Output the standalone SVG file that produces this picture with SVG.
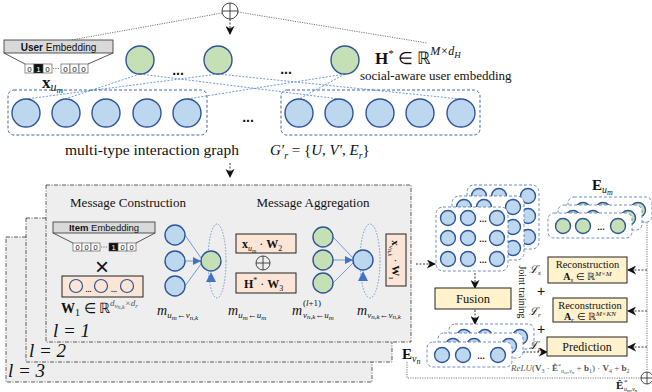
<svg xmlns="http://www.w3.org/2000/svg" width="652" height="392" viewBox="0 0 652 392">
<defs>
<style>
.s{font-family:"Liberation Serif","Times New Roman",serif;fill:#111}
.ss{font-family:"Liberation Sans",Arial,sans-serif;fill:#111}
.i{font-style:italic}
.b{font-weight:bold}
.bc{fill:#bdd7ee;stroke:#2f5597;stroke-width:1.4}
.gc{fill:#c5e0b4;stroke:#2f5597;stroke-width:1.4}
.grp{fill:none;stroke:#2f5597;stroke-width:0.9;stroke-dasharray:3 2}
.grpw{fill:#fff;stroke:#5b7fbf;stroke-width:0.9;stroke-dasharray:3 2}
.panel{fill:#eeeeee;stroke:#333;stroke-width:0.8;stroke-dasharray:4 1.5 1 1.5}
.peach{fill:#fbe5d6;stroke:#222;stroke-width:1}
.yel{fill:#fff2cc;stroke:#222;stroke-width:1}
.edge{stroke:#4a7fd0;stroke-width:0.8;stroke-dasharray:2 1.5;fill:none}
.bl{stroke:#4472c4;stroke-width:0.7;fill:none}
.loop{stroke:#4472c4;stroke-width:0.7;stroke-dasharray:1.5 1.5;fill:none}
.da{stroke:#222;stroke-width:0.9;stroke-dasharray:2 1.5;fill:none}
.dot{stroke:#777;stroke-width:1;stroke-dasharray:1.2 1.2;fill:none}
.cell{fill:#fff;stroke:#444;stroke-width:0.6}
.emb{fill:#d9d9d9;stroke:#444;stroke-width:0.9}
.op{fill:#fff;stroke:#333;stroke-width:0.9}
.sc{fill:none;stroke:#2f5597;stroke-width:1.2}
</style>
<marker id="ah" viewBox="0 0 10 10" refX="9" refY="5" markerWidth="9" markerHeight="9" markerUnits="userSpaceOnUse" orient="auto"><path d="M0,0 L10,5 L0,10 L3,5 z" fill="#111"/></marker>
<marker id="bh" viewBox="0 0 10 10" refX="10" refY="5" markerWidth="8" markerHeight="8" markerUnits="userSpaceOnUse" orient="auto"><path d="M0,0 L10,5 L0,10 z" fill="#4472c4"/></marker>
</defs>

<g id="connectors">
  <path class="dot" d="M222,13 L60,42"/>
  <path class="dot" d="M238,12 L427,43"/>
  <path class="da" d="M230,19 V34" marker-end="url(#ah)"/>
  <path class="edge" d="M140,74 L65,99 M140,74 L339,99 M218,74 L26,99 M218,74 L460,99 M345,74 L187,99 M345,74 L299,99"/>
  <path class="da" d="M230,163 V177" marker-end="url(#ah)"/>
  <path class="da" d="M133,261 H159" marker-end="url(#ah)"/>
  <path class="da" d="M284,263 H301" marker-end="url(#ah)"/>
  <path class="da" d="M416,264 H435" marker-end="url(#ah)"/>
  <path class="da" d="M475,273 V288" marker-end="url(#ah)"/>
  <path class="da" d="M475,310 V324" marker-end="url(#ah)"/>
  <path class="da" d="M523,352 H547" marker-end="url(#ah)"/>
  <path class="da" d="M647,270 H628" marker-end="url(#ah)"/>
  <path class="da" d="M647,311 H628" marker-end="url(#ah)"/>
  <path class="da" d="M647,347 H628" marker-end="url(#ah)"/>
  <path class="dot" d="M633,222 H647 V371"/>
  <path class="dot" d="M407,362 V378 H641"/>
</g>

<g id="oplus-top">
  <circle class="op" cx="230" cy="11" r="8"/>
  <path stroke="#333" stroke-width="0.9" d="M222,11 H238 M230,3 V19"/>
</g>

<g id="user-embedding">
  <rect class="emb" x="4" y="40" width="109" height="13"/>
  <path stroke="#444" stroke-width="0.9" fill="none" d="M4,53 L25,64 M113,53 L88,64"/>
  <text class="ss" x="58.5" y="50.5" font-size="10" text-anchor="middle"><tspan class="b">User</tspan> Embedding</text>
  <rect class="cell" x="25" y="64" width="9" height="9"/>
  <rect x="34" y="64" width="9" height="9" fill="#111" stroke="#444" stroke-width="0.6"/>
  <rect class="cell" x="43" y="64" width="9" height="9"/>
  <rect class="cell" x="61" y="64" width="9" height="9"/>
  <rect class="cell" x="70" y="64" width="9" height="9"/>
  <rect class="cell" x="79" y="64" width="9" height="9"/>
  <path class="dot" d="M53,68.5 H60" stroke="#333"/>
  <g class="ss" font-size="8" text-anchor="middle">
    <text x="29.5" y="71.5">0</text><text x="38.5" y="71.5" style="fill:#fff">1</text><text x="47.5" y="71.5">0</text>
    <text x="65.5" y="71.5">0</text><text x="74.5" y="71.5">0</text><text x="83.5" y="71.5">0</text>
  </g>
  <text class="s" x="42" y="88" font-size="17"><tspan class="b">x</tspan><tspan class="i" dy="3" font-size="12">u</tspan><tspan class="i" dy="2" font-size="9">m</tspan></text>
</g>

<g id="social-layer">
  <circle class="gc" cx="140" cy="60" r="14"/>
  <circle class="gc" cx="218" cy="60" r="14"/>
  <circle class="gc" cx="345" cy="60" r="14"/>
  <text class="ss b" x="178" y="75" font-size="14" text-anchor="middle">...</text>
  <text class="ss b" x="286" y="74" font-size="14" text-anchor="middle">...</text>
  <text class="s" x="375" y="64" font-size="17"><tspan class="b">H</tspan><tspan dy="-7" font-size="11">*</tspan><tspan dy="7"> ∈ ℝ</tspan><tspan class="i" dy="-9" font-size="12">M×d</tspan><tspan class="i" dy="3" font-size="9">H</tspan></text>
  <text class="s" x="360" y="80" font-size="13">social-aware user embedding</text>
</g>

<g id="interaction-graph">
  <rect class="grp" x="8" y="90" width="199" height="45" rx="6"/>
  <rect class="grp" x="281" y="90" width="199" height="45" rx="6"/>
  <circle class="bc" cx="26" cy="113" r="14"/>
  <circle class="bc" cx="66" cy="113" r="14"/>
  <circle class="bc" cx="106" cy="113" r="14"/>
  <circle class="bc" cx="147" cy="113" r="14"/>
  <circle class="bc" cx="187" cy="113" r="14"/>
  <circle class="bc" cx="299" cy="113" r="14"/>
  <circle class="bc" cx="339" cy="113" r="14"/>
  <circle class="bc" cx="380" cy="113" r="14"/>
  <circle class="bc" cx="420" cy="113" r="14"/>
  <circle class="bc" cx="461" cy="113" r="14"/>
  <text class="ss b" x="248" y="122" font-size="14" text-anchor="middle">...</text>
  <text class="s" x="65" y="155" font-size="15.5">multi-type interaction graph</text>
  <text class="s" x="270" y="155" font-size="15"><tspan class="i">G′</tspan><tspan class="i" dy="4" font-size="10">r</tspan><tspan dy="-4"> = {</tspan><tspan class="i">U</tspan><tspan>, </tspan><tspan class="i">V′</tspan><tspan>, </tspan><tspan class="i">E</tspan><tspan class="i" dy="4" font-size="10">r</tspan><tspan dy="-4">}</tspan></text>
</g>

<g id="layer-3"><rect class="panel" x="6" y="237" width="366" height="145"/><text class="s i" x="8" y="377" font-size="19">l = 3</text></g>
<g id="layer-2"><rect class="panel" x="26" y="218" width="366" height="144"/><text class="s i" x="29" y="357" font-size="19">l = 2</text></g>
<g id="layer-1">
  <rect class="panel" x="46" y="185" width="365" height="157"/>
  <text class="s i" x="53" y="337" font-size="19">l = 1</text>
  <text class="s" x="128" y="207" font-size="13" text-anchor="middle">Message Construction</text>
  <text class="s" x="313" y="207" font-size="13" text-anchor="middle">Message Aggregation</text>
</g>

<g id="item-embedding">
  <rect class="emb" x="53" y="222" width="102" height="11"/>
  <path stroke="#444" stroke-width="0.9" fill="none" d="M53,233 L73,243 M155,233 L136,243"/>
  <text class="ss" x="104" y="231" font-size="9.5" text-anchor="middle"><tspan class="b">Item</tspan> Embedding</text>
  <rect class="cell" x="73" y="243" width="9" height="8"/>
  <rect class="cell" x="82" y="243" width="9" height="8"/>
  <rect class="cell" x="91" y="243" width="9" height="8"/>
  <rect x="109" y="243" width="9" height="8" fill="#111" stroke="#444" stroke-width="0.6"/>
  <rect class="cell" x="118" y="243" width="9" height="8"/>
  <rect class="cell" x="127" y="243" width="9" height="8"/>
  <path class="dot" d="M101,247 H108" stroke="#333"/>
  <g class="ss" font-size="7.5" text-anchor="middle">
    <text x="77.5" y="250">0</text><text x="86.5" y="250">0</text><text x="95.5" y="250">0</text>
    <text x="113.5" y="250" style="fill:#fff">1</text><text x="122.5" y="250">0</text><text x="131.5" y="250">0</text>
  </g>
  <text class="ss" x="102" y="275" font-size="24" text-anchor="middle">×</text>
</g>

<g id="w1-matrix">
  <rect class="peach" x="62" y="276" width="81" height="21"/>
  <circle class="sc" cx="76" cy="286" r="6.5"/>
  <circle class="sc" cx="101" cy="286" r="6.5"/>
  <circle class="sc" cx="127" cy="286" r="6.5"/>
  <text class="ss b" x="88.5" y="292" font-size="7" text-anchor="middle">...</text>
  <text class="ss b" x="114" y="292" font-size="7" text-anchor="middle">...</text>
  <text class="s" x="61" y="313" font-size="14"><tspan class="b">W</tspan><tspan dy="3" font-size="10">1</tspan><tspan dy="-3"> ∈ ℝ</tspan><tspan class="i" dy="-7" font-size="9" style="fill:#555">d</tspan><tspan class="i" dy="2" font-size="7" style="fill:#555">v</tspan><tspan class="i" dy="1" font-size="6" style="fill:#555">n,k</tspan><tspan class="i" dy="-3" font-size="9" style="fill:#555">×d</tspan><tspan class="i" dy="2" font-size="7" style="fill:#555">r</tspan></text>
</g>

<g id="construction-graph">
  <ellipse class="loop" cx="217" cy="261" rx="9" ry="37"/>
  <path class="bl" d="M185,235 L201,258 M185,286 L201,264"/>
  <path class="bl" d="M185,261 H201" marker-end="url(#bh)"/>
  <circle class="bc" cx="175" cy="235" r="10"/>
  <circle class="bc" cx="175" cy="261" r="10"/>
  <circle class="bc" cx="175" cy="286" r="10"/>
  <circle class="gc" cx="211" cy="261" r="10"/>
  <polygon points="206,282 216,282 211,272" fill="#4472c4"/>
  <text class="s i" x="157" y="315" font-size="14">m<tspan dy="3" font-size="9">u</tspan><tspan dy="2" font-size="7">m</tspan><tspan dy="-2" font-size="9">←v</tspan><tspan dy="2" font-size="7">n,k</tspan></text>
</g>

<g id="aggregation-inputs">
  <rect class="peach" x="236" y="234" width="60" height="19"/>
  <text class="s" x="242" y="248" font-size="12"><tspan class="b">x</tspan><tspan class="i" dy="3" font-size="8">u</tspan><tspan class="i" dy="2" font-size="6">m</tspan><tspan dy="-5"> · </tspan><tspan class="b">W</tspan><tspan dy="3" font-size="8">2</tspan></text>
  <circle cx="263" cy="263" r="7" fill="none" stroke="#333" stroke-width="0.9"/>
  <path stroke="#333" stroke-width="0.9" d="M256,263 H270 M263,256 V270"/>
  <rect class="peach" x="236" y="273" width="60" height="20"/>
  <text class="s" x="244" y="288" font-size="12"><tspan class="b">H</tspan><tspan dy="-5" font-size="8">*</tspan><tspan dy="5"> · </tspan><tspan class="b">W</tspan><tspan dy="3" font-size="8">3</tspan></text>
</g>

<g id="aggregation-graph">
  <ellipse class="loop" cx="370" cy="261" rx="10" ry="37"/>
  <path class="bl" d="M333,237 L353,258 M333,283 L353,263"/>
  <path class="bl" d="M333,260 H353" marker-end="url(#bh)"/>
  <circle class="gc" cx="323" cy="237" r="10"/>
  <circle class="gc" cx="323" cy="260" r="10"/>
  <circle class="gc" cx="323" cy="283" r="10"/>
  <circle class="bc" cx="363" cy="260" r="10"/>
  <polygon points="358,281 368,281 363,271" fill="#4472c4"/>
  <text class="s i" x="228" y="315" font-size="14">m<tspan dy="3" font-size="9">u</tspan><tspan dy="2" font-size="7">m</tspan><tspan dy="-2" font-size="9">←u</tspan><tspan dy="2" font-size="7">m</tspan></text>
  <text class="s i" x="292" y="315" font-size="14">m</text>
  <text class="s" x="303" y="306" font-size="9">(<tspan class="i">l</tspan>+1)</text>
  <text class="s i" x="303" y="318" font-size="9">v<tspan dy="1" font-size="7">n,k</tspan><tspan dy="-1">←u</tspan><tspan dy="2" font-size="7">m</tspan></text>
  <text class="s i" x="357" y="315" font-size="14">m<tspan dy="3" font-size="9">v</tspan><tspan dy="1" font-size="7">n,k</tspan><tspan dy="-1" font-size="9">←v</tspan><tspan dy="1" font-size="7">n,k</tspan></text>
  <rect class="peach" x="386" y="234" width="20" height="52"/>
  <text class="s" transform="translate(392,260) rotate(90)" font-size="11" text-anchor="middle"><tspan class="b">x</tspan><tspan class="i" dy="3" font-size="7">v</tspan><tspan class="i" dy="1" font-size="6">n,k</tspan><tspan dy="-4"> · </tspan><tspan class="b">W</tspan><tspan dy="3" font-size="7">1</tspan></text>
</g>

<g id="item-grid-stack">
  <g transform="translate(31,-22)">
    <rect class="grpw" x="436" y="207" width="72" height="64" rx="7"/>
    <circle class="bc" cx="448" cy="218" r="7.5"/><circle class="bc" cx="468" cy="218" r="7.5"/><circle class="bc" cx="497" cy="218" r="7.5"/>
    <circle class="bc" cx="448" cy="238" r="7.5"/><circle class="bc" cx="468" cy="238" r="7.5"/><circle class="bc" cx="497" cy="238" r="7.5"/>
    <circle class="bc" cx="448" cy="259" r="7.5"/><circle class="bc" cx="468" cy="259" r="7.5"/><circle class="bc" cx="497" cy="259" r="7.5"/>
  </g>
  <g transform="translate(16,-11)">
    <rect class="grpw" x="436" y="207" width="72" height="64" rx="7"/>
    <circle class="bc" cx="448" cy="218" r="7.5"/><circle class="bc" cx="468" cy="218" r="7.5"/><circle class="bc" cx="497" cy="218" r="7.5"/>
    <circle class="bc" cx="448" cy="238" r="7.5"/><circle class="bc" cx="468" cy="238" r="7.5"/><circle class="bc" cx="497" cy="238" r="7.5"/>
    <circle class="bc" cx="448" cy="259" r="7.5"/><circle class="bc" cx="468" cy="259" r="7.5"/><circle class="bc" cx="497" cy="259" r="7.5"/>
  </g>
  <rect class="grpw" x="436" y="207" width="72" height="64" rx="7"/>
  <circle class="bc" cx="448" cy="218" r="7.5"/><circle class="bc" cx="468" cy="218" r="7.5"/><circle class="bc" cx="497" cy="218" r="7.5"/>
  <circle class="bc" cx="448" cy="238" r="7.5"/><circle class="bc" cx="468" cy="238" r="7.5"/><circle class="bc" cx="497" cy="238" r="7.5"/>
  <circle class="bc" cx="448" cy="259" r="7.5"/><circle class="bc" cx="468" cy="259" r="7.5"/><circle class="bc" cx="497" cy="259" r="7.5"/>
  <g class="ss b" font-size="9" text-anchor="middle"><text x="483" y="222">...</text><text x="483" y="242">...</text><text x="483" y="263">...</text></g>
  <text class="s" transform="translate(519,292) rotate(90)" font-size="10" text-anchor="middle">Joint training</text>
</g>

<g id="user-stack">
  <text class="s" x="592" y="190" font-size="15"><tspan class="b">E</tspan><tspan class="i" dy="3" font-size="10">u</tspan><tspan class="i" dy="2" font-size="8">m</tspan></text>
  <g transform="translate(20,-16)">
    <rect class="grpw" x="548" y="213" width="84" height="25" rx="6"/>
    <circle class="gc" cx="563" cy="226" r="7.5"/><circle class="gc" cx="583" cy="226" r="7.5"/><circle class="gc" cx="618" cy="226" r="7.5"/>
  </g>
  <g transform="translate(10,-8)">
    <rect class="grpw" x="548" y="213" width="84" height="25" rx="6"/>
    <circle class="gc" cx="563" cy="226" r="7.5"/><circle class="gc" cx="583" cy="226" r="7.5"/><circle class="gc" cx="618" cy="226" r="7.5"/>
  </g>
  <rect class="grpw" x="548" y="213" width="84" height="25" rx="6"/>
  <circle class="gc" cx="563" cy="226" r="7.5"/><circle class="gc" cx="583" cy="226" r="7.5"/><circle class="gc" cx="618" cy="226" r="7.5"/>
  <text class="ss b" x="601" y="230" font-size="9" text-anchor="middle">...</text>
</g>

<g id="fusion">
  <rect class="yel" x="435" y="288" width="76" height="21"/>
  <text class="s" x="473" y="303" font-size="12.5" text-anchor="middle">Fusion</text>
</g>

<g id="item-stack">
  <g transform="translate(22,-18)">
    <rect class="grpw" x="427" y="342" width="85" height="25" rx="6"/>
    <circle class="bc" cx="442" cy="355" r="7.5"/><circle class="bc" cx="463" cy="355" r="7.5"/><circle class="bc" cx="498" cy="355" r="7.5"/>
  </g>
  <g transform="translate(11,-9)">
    <rect class="grpw" x="427" y="342" width="85" height="25" rx="6"/>
    <circle class="bc" cx="442" cy="355" r="7.5"/><circle class="bc" cx="463" cy="355" r="7.5"/><circle class="bc" cx="498" cy="355" r="7.5"/>
  </g>
  <rect class="grpw" x="427" y="342" width="85" height="25" rx="6"/>
  <circle class="bc" cx="442" cy="355" r="7.5"/><circle class="bc" cx="463" cy="355" r="7.5"/><circle class="bc" cx="498" cy="355" r="7.5"/>
  <text class="ss b" x="481" y="359" font-size="9" text-anchor="middle">...</text>
  <text class="s" x="402" y="359" font-size="15"><tspan class="b">E</tspan><tspan class="i" dy="3" font-size="10">v</tspan><tspan class="i" dy="2" font-size="8">n</tspan></text>
</g>

<g id="losses">
  <text class="s i" x="529" y="273" font-size="11">ℒ<tspan dy="2" font-size="7">s</tspan></text>
  <text class="ss" x="541" y="296" font-size="14" text-anchor="middle">+</text>
  <text class="s i" x="529" y="315" font-size="11">ℒ<tspan dy="2" font-size="7">r</tspan></text>
  <text class="ss" x="541" y="334" font-size="14" text-anchor="middle">+</text>
  <text class="s i" x="529" y="349" font-size="11">ℒ<tspan dy="2" font-size="7">p</tspan></text>
</g>

<g id="reconstruction-s">
  <rect class="yel" x="548" y="257" width="79" height="26"/>
  <text class="s" x="587.5" y="268" font-size="10.5" text-anchor="middle">Reconstruction</text>
  <text class="s" x="587.5" y="280" font-size="10" text-anchor="middle"><tspan class="b">A</tspan><tspan class="i" dy="2" font-size="7">s</tspan><tspan dy="-2"> ∈ ℝ</tspan><tspan class="i" dy="-4" font-size="7">M×M</tspan></text>
</g>
<g id="reconstruction-r">
  <rect class="yel" x="553" y="298" width="74" height="24"/>
  <text class="s" x="590" y="309" font-size="10.5" text-anchor="middle">Reconstruction</text>
  <text class="s" x="590" y="320" font-size="10" text-anchor="middle"><tspan class="b">A</tspan><tspan class="i" dy="2" font-size="7">r</tspan><tspan dy="-2"> ∈ ℝ</tspan><tspan class="i" dy="-4" font-size="7">M×KN</tspan></text>
</g>
<g id="prediction">
  <rect class="yel" x="547" y="337" width="80" height="19"/>
  <text class="s" x="587" y="351" font-size="12" text-anchor="middle">Prediction</text>
</g>

<g id="predictor-formula">
  <text class="s" x="511" y="371" font-size="9" style="fill:#555"><tspan class="i">ReLU</tspan>(<tspan class="b">V</tspan><tspan dy="2" font-size="6">3</tspan><tspan dy="-2"> · </tspan><tspan class="b">Ê</tspan><tspan dy="-3" font-size="6">*</tspan><tspan class="i" dy="5" font-size="6">u</tspan><tspan class="i" dy="1" font-size="5">m</tspan><tspan class="i" dy="-1" font-size="6">,v</tspan><tspan class="i" dy="1" font-size="5">n</tspan><tspan dy="-3"> + </tspan><tspan class="b">b</tspan><tspan dy="2" font-size="6">1</tspan><tspan dy="-2">) · </tspan><tspan class="b">V</tspan><tspan dy="2" font-size="6">4</tspan><tspan dy="-2"> + </tspan><tspan class="b">b</tspan><tspan dy="2" font-size="6">2</tspan></text>
</g>

<g id="oplus-bottom">
  <circle class="op" cx="647" cy="378" r="6"/>
  <path stroke="#333" stroke-width="0.9" d="M641,378 H653 M647,372 V384"/>
  <text class="s b" x="616" y="389" font-size="11">Ê</text>
  <text class="s" x="624" y="384" font-size="7">*</text>
  <text class="s i" x="624" y="391" font-size="6">u<tspan font-size="5" dy="1">m</tspan><tspan dy="-1">,v</tspan><tspan font-size="5" dy="1">n</tspan></text>
</g>
</svg>
